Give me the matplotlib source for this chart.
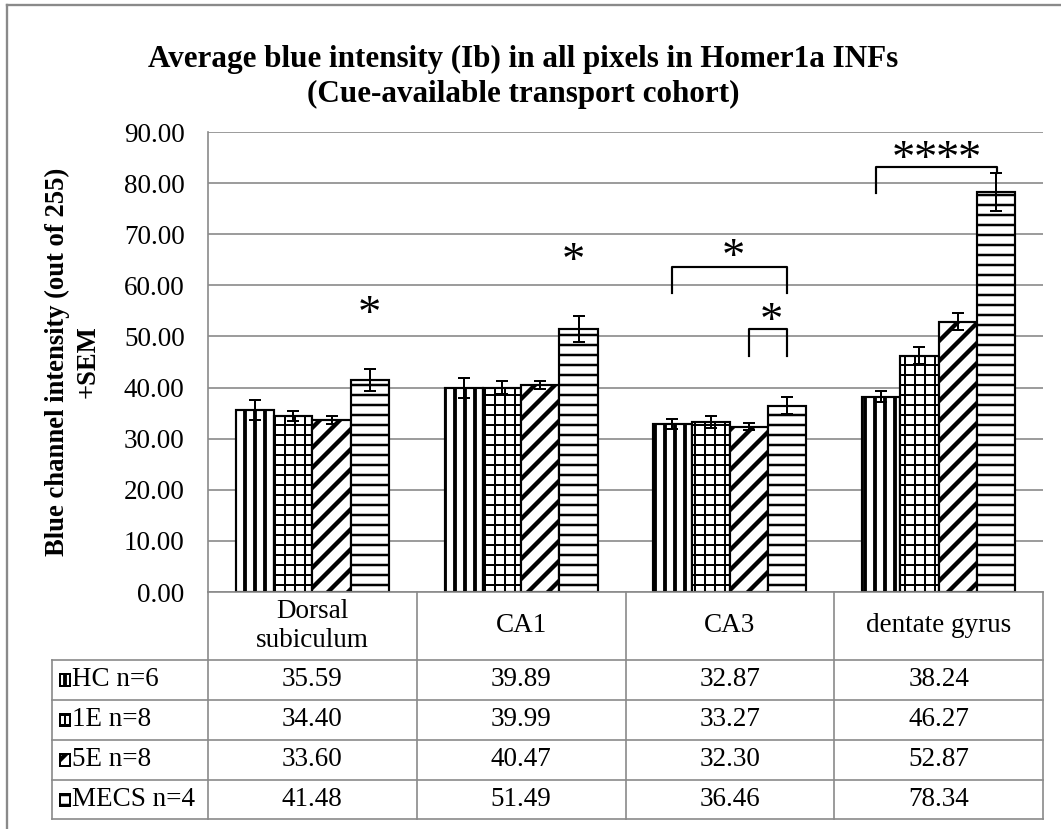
#!/usr/bin/env python3
import matplotlib
matplotlib.use("Agg")
import matplotlib.pyplot as plt
from matplotlib.patches import Rectangle
from matplotlib.lines import Line2D
from matplotlib.transforms import blended_transform_factory, offset_copy

# data
regions = ["Dorsal\nsubiculum", "CA1", "CA3", "dentate gyrus"]
groups = ["HC n=6", "1E n=8", "5E n=8", "MECS n=4"]
hc = [35.59, 39.89, 32.87, 38.24]
one_e = [34.40, 39.99, 33.27, 46.27]
five_e = [33.60, 40.47, 32.30, 52.87]
mecs = [41.48, 51.49, 36.46, 78.34]
hc_sem = [2.0, 1.9, 0.9, 1.0]
one_e_sem = [1.0, 1.3, 1.1, 1.6]
five_e_sem = [0.8, 0.8, 0.7, 1.7]
mecs_sem = [2.2, 2.5, 1.7, 3.7]
y_ticks = [0, 10, 20, 30, 40, 50, 60, 70, 80, 90]

# significance marks: (x, y, count) and brackets (x0, x1, top, left_bottom, right_bottom)
stars = [(0.275, 56.2, 1), (1.25, 66.5, 1), (2.015, 67.3, 1),
         (2.20, 54.8, 1), (2.99, 86.5, 4)]
brackets = [(1.725, 2.275, 63.6, 58.5, 58.5),
            (2.092, 2.275, 51.5, 46.2, 46.2),
            (2.70, 3.278, 83.2, 78.1, 82.0)]

W, H, DPI = 1061, 829, 120
GRID = "#8a8a8a"
SERIF = ["Liberation Serif", "DejaVu Serif"]
FS = 16.3
STAR_FS = 28


def fx(px):
    return px / W


def fy(py):
    return 1 - py / H


def apply_plot_style():
    plt.rcParams.update({
        "font.family": SERIF,
        "font.size": FS,
        "hatch.color": "black",
    })


def style_bar(patch, hatch, hlw):
    patch.set_hatch(hatch)
    if hasattr(patch, "set_hatch_linewidth"):
        patch.set_hatch_linewidth(hlw)


def main():
    apply_plot_style()
    fig = plt.figure(figsize=(W / DPI, H / DPI), dpi=DPI)

    # outer chart border
    fig.add_artist(Line2D([fx(7), fx(7)], [fy(5), 0], color=GRID, lw=1.4))
    fig.add_artist(Line2D([fx(7), 1], [fy(5), fy(5)], color=GRID, lw=1.4))

    ax = fig.add_axes([fx(208), fy(592), (1043 - 208) / W, (592 - 132) / H])

    series = [hc, one_e, five_e, mecs]
    sems = [hc_sem, one_e_sem, five_e_sem, mecs_sem]
    hatches = ["||", "++", "//", "--"]
    hatch_lw = [2.3, 1.2, 2.6, 1.5]
    width = 0.1835
    xs = list(range(len(regions)))

    for j, (vals, err) in enumerate(zip(series, sems)):
        pos = [x + (j - 1.5) * width for x in xs]
        bars = ax.bar(pos, vals, width=width, color="white", edgecolor="black",
                      linewidth=1.3, zorder=2)
        for b in bars:
            style_bar(b, hatches[j], hatch_lw[j])
        ax.errorbar(pos, vals, yerr=err, fmt="none", ecolor="black",
                    elinewidth=1.2, capsize=3.6, capthick=1.2, zorder=3)

    ax.set_xlim(-0.5, 3.5)
    ax.set_ylim(0, 90)
    ax.set_yticks(y_ticks)
    ax.set_yticklabels([f"{v:.2f}" for v in y_ticks])
    ax.set_xticks([])
    ax.tick_params(axis="y", length=0, pad=14, labelsize=FS)
    ax.yaxis.grid(True, color=GRID, lw=1.0)
    ax.set_axisbelow(True)
    for s in ["top", "right"]:
        ax.spines[s].set_visible(False)
    for s in ["left", "bottom"]:
        ax.spines[s].set_color(GRID)
        ax.spines[s].set_linewidth(1.0)

    # significance brackets and stars
    for x0, x1, top, lb, rb in brackets:
        ax.plot([x0, x0, x1, x1], [lb, top, top, rb], color="black", lw=1.3,
                zorder=4, clip_on=False)
    step = 22 / DPI * 72  # spacing between stars, points
    for x, y, n in stars:
        for k in range(n):
            dx = (k - (n - 1) / 2) * step
            trans = offset_copy(ax.transData, fig=fig, x=dx, y=-0.225 * STAR_FS,
                                units="points")
            ax.text(x, y, "*", transform=trans, ha="center", va="center",
                    fontsize=STAR_FS, zorder=5)

    # data table below the plot
    tr = blended_transform_factory(ax.transData, fig.transFigure)
    row_lines = [660, 700, 740, 780, 819]
    for i in range(len(regions) + 1):
        fig.add_artist(Line2D([i - 0.5, i - 0.5], [fy(592), fy(819)],
                              transform=tr, color=GRID, lw=1.0))
    fig.add_artist(Line2D([fx(52), fx(52)], [fy(660), fy(819)], color=GRID, lw=1.0))
    for py in row_lines:
        fig.add_artist(Line2D([fx(52), fx(1043)], [fy(py), fy(py)], color=GRID, lw=1.0))

    for i, name in enumerate(regions):
        fig.text(i, fy(626), name, transform=tr, ha="center", va="center",
                 fontsize=FS, linespacing=1.2)

    for r, (label, vals) in enumerate(zip(groups, series)):
        cy = (row_lines[r] + row_lines[r + 1]) / 2
        icon = Rectangle((fx(60), fy(cy + 6)), fx(10), 12 / H, transform=fig.transFigure,
                         facecolor="white", edgecolor="black", lw=1.2)
        style_bar(icon, hatches[r], hatch_lw[r])
        fig.add_artist(icon)
        fig.text(fx(72), fy(cy), label, ha="left", va="center", fontsize=FS)
        for i, v in enumerate(vals):
            fig.text(i, fy(cy), f"{v:.2f}", transform=tr, ha="center", va="center",
                     fontsize=FS)

    fig.text(fx(73), fy(362), "Blue channel intensity (out of 255)\n+SEM", rotation=90,
             ha="center", va="center", fontsize=16, fontweight="bold",
             multialignment="center", linespacing=1.28)
    fig.text(fx(523), fy(77),
             "Average blue intensity (Ib) in all pixels in Homer1a INFs\n"
             "(Cue-available transport cohort)",
             ha="center", va="center", fontsize=18.7, fontweight="bold", linespacing=1.25)

    fig.savefig("out.png", dpi=DPI)
    plt.close(fig)


if __name__ == "__main__":
    main()
